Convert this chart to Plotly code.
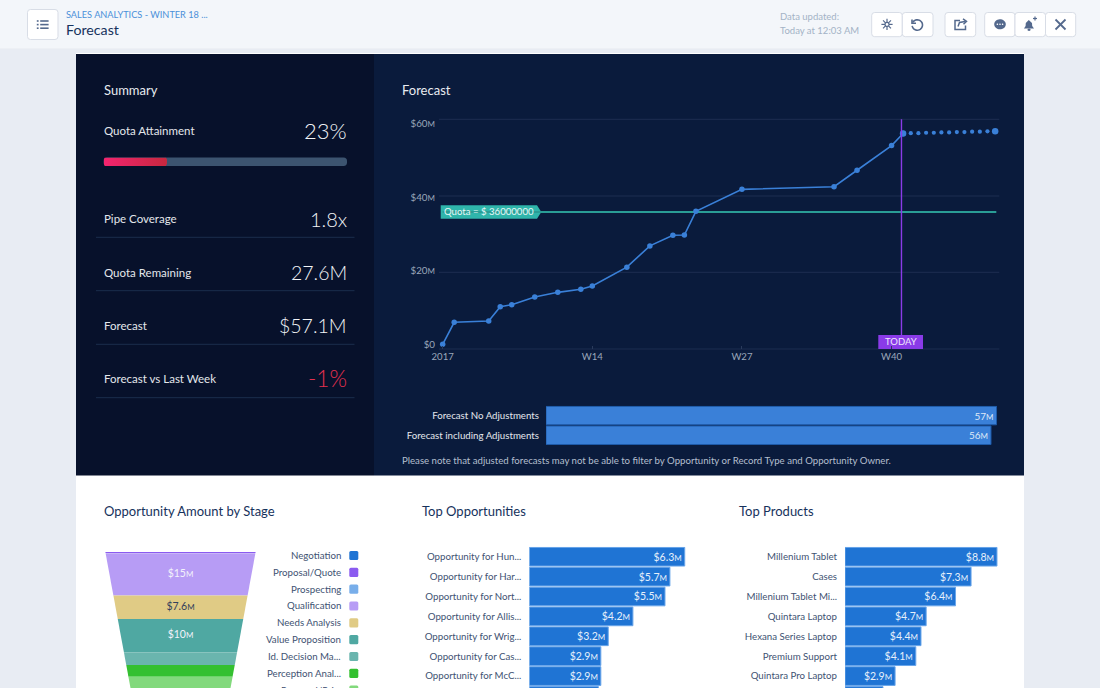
import numpy as np
import plotly.graph_objects as go

W, H = 1100, 688
FONT = "Lato"
LIGHT = "Lato Light, Lato"

# ---------- data ----------
tick_weeks = [1, 14, 27, 40]
tick_week_labels = ["2017", "W14", "W27", "W40"]
axis_values = [0, 20, 40, 60]
forecast_weeks = [1, 2, 5, 6, 7, 9, 11, 13, 14, 17, 19, 21, 22, 23, 27, 35, 37, 40, 41]
forecast_values = [0, 6.0, 6.35, 10.25, 10.8, 12.9, 14.15, 15.0, 15.9, 21.0, 26.8, 29.7,
                   29.75, 36.2, 42.2, 42.9, 47.4, 54.1, 57.4]
projection_weeks = [41, 41.67, 42.33, 43, 43.67, 44.33, 45, 45.67, 46.33, 47, 47.67, 48.33, 49]
projection_values = [57.4, 57.5, 57.5, 57.6, 57.6, 57.7, 57.7, 57.8, 57.8, 57.9, 57.9, 58.0, 58.0]
quota_value = 36
quota_weeks = [1, 49.1]
today_week = 40.86

adjust_names = ["Forecast No Adjustments", "Forecast including Adjustments"]
adjust_values = [57.0, 56.3]
adjust_labels = ["57", "56"]

stage_names = ["Negotiation", "Proposal/Quote", "Prospecting", "Qualification", "Needs Analysis",
               "Value Proposition", "Id. Decision Ma...", "Perception Anal...", "Proposal/Pri..."]
stage_values = [0.1, 0.4, 0.1, 15, 7.6, 10, 3.46, 3.1, 4.2]
stage_labels = ["", "", "", "$15", "$7.6", "$10", "", "", ""]
stage_colors = ["#1f74d4", "#8b5bf0", "#78aeea", "#b79cf5", "#e0cb85", "#4fa8a2", "#6ab5ae", "#34c030", "#82d97c"]

opp_names = ["Opportunity for Hun...", "Opportunity for Har...", "Opportunity for Nort...",
             "Opportunity for Allis...", "Opportunity for Wrig...", "Opportunity for Cas...",
             "Opportunity for McC...", ""]
opp_values = [6.3, 5.7, 5.5, 4.2, 3.2, 2.9, 2.9, 2.8]
prod_names = ["Millenium Tablet", "Cases", "Millenium Tablet Mi...", "Quintara Laptop",
              "Hexana Series Laptop", "Premium Support", "Quintara Pro Laptop", ""]
prod_values = [8.8, 7.3, 6.4, 4.7, 4.4, 4.1, 2.9, 2.2]

summary_names = ["Quota Attainment", "Pipe Coverage", "Quota Remaining", "Forecast", "Forecast vs Last Week"]
summary_values = ["23%", "1.8x", "27.6M", "$57.1M", "-1%"]
summary_sizes = [22, 20, 19.5, 19.5, 22.5]
progress_value = 26

# ---------- helpers ----------
fx = lambda x: x / W
fy = lambda y: 1 - y / H
small_m = "<span style='font-size:8px'>M</span>"
shapes, notes = [], []


def pt(x, y):
    return f"{fx(x):.6f},{fy(y):.6f}"


def rr_path(x0, y0, x1, y1, r=0):
    if r == 0:
        return f"M{pt(x0,y0)}L{pt(x1,y0)}L{pt(x1,y1)}L{pt(x0,y1)}Z"
    return (f"M{pt(x0+r,y0)}L{pt(x1-r,y0)}Q{pt(x1,y0)} {pt(x1,y0+r)}L{pt(x1,y1-r)}Q{pt(x1,y1)} {pt(x1-r,y1)}"
            f"L{pt(x0+r,y1)}Q{pt(x0,y1)} {pt(x0,y1-r)}L{pt(x0,y0+r)}Q{pt(x0,y0)} {pt(x0+r,y0)}Z")


def add_path(path, fill=None, line=None, lw=1):
    shapes.append(dict(type="path", xref="paper", yref="paper", path=path,
                       fillcolor=fill or "rgba(0,0,0,0)",
                       line=dict(color=line or "rgba(0,0,0,0)", width=lw if line else 0), layer="below"))


def rect(x0, y0, x1, y1, fill=None, line=None, lw=1, r=0):
    add_path(rr_path(x0, y0, x1, y1, r), fill, line, lw)


def poly(points, fill=None, line=None, lw=1, close=False):
    p = "M" + "L".join(pt(*q) for q in points) + ("Z" if close else "")
    add_path(p, fill, line, lw)


def ellipse(cx, cy, rx, ry, a0=0, a1=360, n=32):
    t = np.radians(np.linspace(a0, a1, n))
    return list(zip(cx + rx * np.cos(t), cy + ry * np.sin(t)))


def txt(x, y, s, size, color, anchor="left", family=FONT):
    notes.append(dict(xref="paper", yref="paper", x=fx(x), y=fy(y - 0.7), text=s, showarrow=False, xanchor=anchor,
                      yanchor="middle", borderpad=0, borderwidth=0,
                      font=dict(family=family, size=size, color=color)))


# ---------- page furniture ----------
rect(0, 0, W, 48, "#f3f6fa")
rect(0, 48, W, 49, "#edf0f5")
rect(76, 53, 1024, H, "#ffffff")
rect(76, 54, 374, 475.5, "#07112b")
rect(374, 54, 1024, 475.5, "#0a1b3c")

# header buttons and icons
ICON = "#54698d"
BORDER = "#d8dde6"
rect(27.5, 9.5, 58, 39.5, "#ffffff", BORDER, 1, 3)
for y in (21, 24.6, 28.2):
    poly([(36.8, y), (38.6, y)], None, ICON, 1.6)
    poly([(40.2, y), (48.6, y)], None, ICON, 1.6)
for a, b, rad in [(871.7, 902.3, 3), (902.3, 933, 3), (945, 975.7, 3), (984.7, 1015, 3), (1015, 1045.5, 3), (1045.5, 1075.7, 3)]:
    rect(a, 12.5, b, 36.7, "#ffffff", BORDER, 1, rad)
for ang in range(0, 180, 45):
    dx, dy = 5.6 * np.cos(np.radians(ang)), 5.6 * np.sin(np.radians(ang))
    poly([(887 - dx, 24.4 - dy), (887 + dx, 24.4 + dy)], None, ICON, 1.2)
poly(ellipse(887, 24.4, 2.0, 2.0), "#ffffff", ICON, 1.2, True)
poly(ellipse(917.3, 25, 5.2, 5.2, -150, 170), None, ICON, 1.6)
poly([(912, 19.5), (912, 23.2), (916, 23.2)], None, ICON, 1.6)
poly([(960, 20.5), (955, 20.5), (955, 29.5), (965.5, 29.5), (965.5, 25.5)], None, ICON, 1.5)
poly([(958, 26.5), (959.5, 22.5), (965, 21.5)], None, ICON, 1.5)
poly([(963, 18.8), (966.5, 21.4), (963.5, 24.2)], None, ICON, 1.5)
poly(ellipse(1000, 24.3, 5.8, 5) + [(995, 29.8)], ICON, None, 0, True)
for dx in (-2.6, 0, 2.6):
    poly(ellipse(1000 + dx, 24.3, 0.8, 0.8, n=10), "#ffffff", None, 0, True)
poly([(1024, 28.5), (1025.6, 26), (1025.8, 23), (1028.8, 20), (1032, 23), (1032.2, 26), (1034, 28.5)], ICON, None, 0, True)
poly(ellipse(1029, 29.8, 1.6, 1.2, n=10), ICON, None, 0, True)
poly([(1033, 18.5), (1037, 18.5)], None, ICON, 1.2)
poly([(1035, 16.5), (1035, 20.5)], None, ICON, 1.2)
poly([(1055.5, 19.5), (1065.5, 29.5)], None, ICON, 1.8)
poly([(1065.5, 19.5), (1055.5, 29.5)], None, ICON, 1.8)

txt(66, 15, "SALES ANALYTICS - WINTER 18 ...", 9.2, "#4a90d9")
txt(66, 30.5, "Forecast", 14.2, "#16325c")
txt(780, 17.5, "Data updated:", 9.5, "#a3b3c6")
txt(780, 31, "Today at 12:03 AM", 9.5, "#a3b3c6")

# summary panel
txt(104, 90.5, "Summary", 13, "#e8ebf0")
summary_rows = [131, 219.5, 273, 326.5, 379.5]
rule_rows = [237.3, 290.7, 344.3, 397.7]
for n, v, y, s in zip(summary_names, summary_values, summary_rows, summary_sizes):
    txt(104, y, n, 11.5, "#e4e7ec")
    txt(347, y, v, s, "#e3304f" if v.startswith("-") else "#f2f4f7", "right", LIGHT)
for y in rule_rows:
    poly([(96, y), (354.5, y)], None, "#1b2e4d", 1)
rect(103.7, 157.5, 347, 166, "#3c5470", None, 0, 3.5)

# forecast panel
txt(402, 90.5, "Forecast", 13, "#e8ebf0")
for y in (119.3, 196, 272.3, 349):
    poly([(439, y), (999.3, y)], None, "#1d2e50", 1)
poly([(440.7, 205.3), (537, 205.3), (541.3, 212), (537, 218.7), (440.7, 218.7)], "#2fb5ab", None, 0, True)
rect(878.3, 335, 923, 349, "#8a3be8")
txt(444.3, 212.3, "Quota = $ 36000000", 9.6, "#e9f7f6")
txt(900.7, 342.2, "TODAY", 9.5, "#efe6fc", "center")
txt(402, 460.5, "Please note that adjusted forecasts may not be able to filter by Opportunity or Record Type and Opportunity Owner.",
    9.65, "#b4bfce")

# lower titles
txt(104, 512, "Opportunity Amount by Stage", 13, "#16325c")
txt(421.5, 512, "Top Opportunities", 13, "#16325c")
txt(739, 512, "Top Products", 13, "#16325c")

# funnel legend
legend_rows = [555.5, 572.3, 589.2, 606, 622.8, 639.7, 656.5, 673.3, 690.2]
for n, c, y in zip(stage_names, stage_colors, legend_rows):
    txt(341, y, n, 9.7, "#3e5272", "right")
    rect(349.3, y - 4.6, 358.3, y + 4.6, c, None, 0, 1.5)

fig = go.Figure()


def px_domain_x(a, b):
    return [a / W, b / W]


def px_domain_y(top, bottom):
    return [max(0, 1 - bottom / H), 1 - top / H]


# forecast line chart
LINE = "#3a80d8"
fig.add_trace(go.Scatter(x=quota_weeks, y=[quota_value] * 2, mode="lines", line=dict(color="#2a9d96", width=2),
                         xaxis="x", yaxis="y", hoverinfo="skip"))
fig.add_trace(go.Scatter(x=forecast_weeks, y=forecast_values, mode="lines+markers", line=dict(color=LINE, width=1.6),
                         marker=dict(color=LINE, size=5.5), xaxis="x", yaxis="y", hoverinfo="skip"))
fig.add_trace(go.Scatter(x=projection_weeks, y=projection_values, mode="markers",
                         marker=dict(color=LINE, size=[6.5] + [4.2] * 11 + [6.5], opacity=1, line=dict(width=0)),
                         xaxis="x", yaxis="y", hoverinfo="skip"))
fig.add_trace(go.Scatter(x=[today_week] * 2, y=[2.5, 61.3], mode="lines", line=dict(color="#8a3be8", width=1.4),
                         xaxis="x", yaxis="y", hoverinfo="skip"))

# adjustments bars
rows = list(range(len(adjust_names)))
fig.add_trace(go.Bar(y=rows, x=adjust_values, orientation="h", xaxis="x2", yaxis="y2", width=0.94,
                     marker=dict(color=LINE, line=dict(color="#1e5aa8", width=1)),
                     text=[v + small_m for v in adjust_labels], textposition="inside", insidetextanchor="end",
                     textangle=0, textfont=dict(color="#dfe9f7", size=10, family=FONT), hoverinfo="skip"))


def hbar(vals, xa, ya):
    # the last row is cut by the page edge before its label shows
    return go.Bar(y=list(range(len(vals))), x=vals, orientation="h", xaxis=xa, yaxis=ya, width=0.94,
                  marker=dict(color="#1f74d4", line=dict(color="#6aa6ea", width=1)),
                  text=[f"${v}" + small_m for v in vals[:-1]] + [""], textposition="inside", insidetextanchor="end",
                  textangle=0, textfont=dict(color="#e6f0fb", size=10.5, family=FONT), hoverinfo="skip")


fig.add_trace(hbar(opp_values, "x3", "y3"))
fig.add_trace(hbar(prod_values, "x4", "y4"))

# funnel: area per value unit is constant, width narrows linearly with depth
AREA_PER_UNIT, TOP_WIDTH, TAPER = 400.0, 150.4, 0.185


def depth(c):
    return (TOP_WIDTH - np.sqrt(TOP_WIDTH ** 2 - 4 * TAPER * AREA_PER_UNIT * c)) / (2 * TAPER)


cum = np.concatenate([[0], np.cumsum(stage_values)])
for i, c in enumerate(stage_colors):
    h0, h1 = depth(cum[i]), depth(cum[i + 1])
    w0, w1 = TOP_WIDTH / 2 - TAPER * h0, TOP_WIDTH / 2 - TAPER * h1
    fig.add_trace(go.Scatter(x=[-w0, w0, w1, -w1, -w0], y=[h0, h0, h1, h1, h0], mode="lines", fill="toself",
                             fillcolor=c, line=dict(width=0), xaxis="x5", yaxis="y5", hoverinfo="skip"))
mids = [(depth(cum[i]) + depth(cum[i + 1])) / 2 for i in range(len(stage_values))]
fig.add_trace(go.Scatter(x=[0] * len(mids), y=mids, mode="text",
                         text=[t + small_m if t else "" for t in stage_labels],
                         textfont=dict(family=FONT, size=10.5,
                                       color=["#33415c" if t == "$7.6" else "#f2f2fb" for t in stage_labels]),
                         xaxis="x5", yaxis="y5", hoverinfo="skip"))

# progress bar
r = 3.5 / 2.43
fig.add_trace(go.Scatter(x=[r * 0.3, progress_value - r * 0.3, progress_value, progress_value, progress_value - r * 0.3, r * 0.3, 0, 0, r * 0.3],
                         y=[0, 0, 0.25, 0.75, 1, 1, 0.75, 0.25, 0], mode="lines", fill="toself",
                         fillcolor="#e0245e", line=dict(width=0),
                         fillgradient=dict(type="horizontal", colorscale=[[0, "#f4246f"], [1, "#c7283f"]]),
                         xaxis="x6", yaxis="y6", hoverinfo="skip"))

hidden = dict(visible=False, fixedrange=True, automargin=False)
common = dict(fixedrange=True, automargin=False, showgrid=False, zeroline=False)
TICK_DARK = "#3e5272"
BAR_X = dict(visible=False, fixedrange=True, automargin=False)
layout = dict(
    width=W, height=H, margin=dict(l=0, r=0, t=0, b=0), paper_bgcolor="#e8ecf3", plot_bgcolor="rgba(0,0,0,0)",
    showlegend=False, font=dict(family=FONT), bargap=0.06, shapes=shapes, annotations=notes,
    xaxis=dict(domain=px_domain_x(439, 999.3), range=[0.68, 49.36], tickmode="array", tickvals=tick_weeks,
               ticktext=tick_week_labels, ticks="inside", ticklen=3,
               tickcolor="#2a3b5c", tickfont=dict(size=9.6, color="#9aa7ba", family=FONT), anchor="y", **common),
    yaxis=dict(domain=px_domain_y(119, 349), range=[-1.28, 61.35], tickmode="array", tickvals=axis_values,
               ticktext=["$0"] + [f"${v}" + small_m for v in axis_values[1:]],
               tickfont=dict(size=9.8, color="#9aa7ba", family=FONT), ticklabelstandoff=3, anchor="x", **common),
    xaxis2=dict(domain=px_domain_x(546, 1000), range=[0, 57.44], anchor="y2", **BAR_X),
    yaxis2=dict(domain=px_domain_y(405.7, 445.1), range=[1.5, -0.5], tickmode="array", tickvals=rows, ticktext=adjust_names,
                tickfont=dict(size=9.7, color="#e4e7ec", family=FONT),
                ticklabelstandoff=6, anchor="x2", **common),
    xaxis3=dict(domain=px_domain_x(529.3, 700), range=[0, 170.7 / 24.67], anchor="y3", **BAR_X),
    yaxis3=dict(domain=px_domain_y(546.75, H), range=[6.6, -0.5], tickmode="array", tickvals=list(range(7)), ticktext=opp_names[:7],
                tickfont=dict(size=9.7, color=TICK_DARK, family=FONT),
                ticklabelstandoff=7, anchor="x3", **common),
    xaxis4=dict(domain=px_domain_x(845, 1010), range=[0, 165 / 17.27], anchor="y4", **BAR_X),
    yaxis4=dict(domain=px_domain_y(546.75, H), range=[6.6, -0.5], tickmode="array", tickvals=list(range(7)), ticktext=prod_names[:7],
                tickfont=dict(size=9.7, color=TICK_DARK, family=FONT),
                ticklabelstandoff=7, anchor="x4", **common),
    xaxis5=dict(domain=px_domain_x(100, 261), range=[-80.5, 80.5], anchor="y5", **hidden),
    yaxis5=dict(domain=px_domain_y(551.7, H), range=[H - 551.7, 0], anchor="x5", **hidden),
    xaxis6=dict(domain=px_domain_x(103.7, 347), range=[0, 100], anchor="y6", **hidden),
    yaxis6=dict(domain=px_domain_y(157.5, 166), range=[0, 1], anchor="x6", **hidden),
)
fig.update_layout(**layout)
fig.write_html("out.html", config=dict(displayModeBar=False), post_script="document.body.style.margin='0';")
